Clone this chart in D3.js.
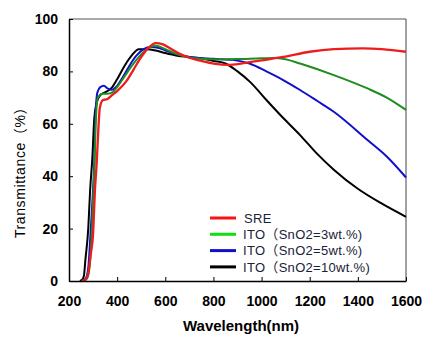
<!DOCTYPE html>
<html>
<head>
<meta charset="utf-8">
<script src="https://cdn.jsdelivr.net/npm/d3@7"></script>
<style>
  body { margin: 0; background: #fff; }
  .axis text { font-family: Arial, "Liberation Sans", sans-serif; font-weight: bold; font-size: 14px; fill: #000; }
  .axis path, .axis line { stroke: #000; }
</style>
</head>
<body>
<svg id="chart" width="433" height="349"></svg>
<script>
// wavelength (nm) / transmittance (%)
var sre = [[250,0],[268,0.5],[280,3],[290,10],[300,18],[308,35],[315,45],[322,58],[328,66],[340,69],[360,69.5],[380,71],[400,72.5],[440,76.5],[470,81],[500,85.5],[530,89],[560,90.8],[590,90.3],[620,88.8],[660,86.7],[700,85.2],[750,84],[800,83],[870,82.5],[950,83.5],[1000,84.2],[1090,85.5],[1200,87.5],[1300,88.5],[1420,88.8],[1500,88.5],[1600,87.5]];
var ito3 = [[260,0],[275,1],[285,5],[295,19],[305,42],[312,62],[320,70],[340,71.5],[360,71.5],[380,72],[400,74],[430,78],[460,82],[500,86.5],[530,89],[560,89.8],[600,88.5],[650,86.5],[700,85.3],[750,84.8],[800,84.6],[900,84.7],[1000,85],[1060,85.1],[1110,84.4],[1160,83],[1300,78.6],[1440,73.5],[1520,70],[1600,65.3]];
var ito5 = [[255,0],[270,1],[280,5],[290,19],[300,35],[305,45],[310,63],[318,72],[330,74],[345,74.5],[360,73.5],[375,73],[400,74.5],[425,78],[450,82],[480,86],[510,88.5],[540,89.3],[570,89],[600,88],[650,86.5],[700,85.5],[800,84.8],[880,84.4],[950,83],[1020,80],[1090,76.7],[1160,72.9],[1230,68.8],[1300,64.6],[1440,53.8],[1520,47.5],[1600,39.5]];
var ito10 = [[245,0],[255,0.5],[262,2],[268,8],[280,20],[288,35],[297,47],[305,62],[315,68],[330,71],[350,72],[380,74],[400,77],[430,82],[460,86],[490,88.5],[520,88.5],[560,88],[600,87],[650,86],[700,85.5],[750,85],[800,84],[850,83],[900,80],[952,76],[1021,69],[1090,62.2],[1160,55.7],[1228,48.8],[1300,42.5],[1400,35.2],[1500,29.5],[1600,24.5]];

var seriesNames = ["SRE", "ITO（SnO2=3wt.%)", "ITO（SnO2=5wt.%)", "ITO（SnO2=10wt.%)"];
var seriesData = [sre, ito3, ito5, ito10];
var lineColors = ["#ee1c1c", "#1e8c1e", "#1010cc", "#000000"];
var legendColors = ["#ff1010", "#10e010", "#1010cc", "#000000"];
var xTicks = [200, 400, 600, 800, 1000, 1200, 1400, 1600];
var yTicks = [0, 20, 40, 60, 80, 100];

var margin = {top: 19, right: 27, bottom: 68, left: 69};
var width = 433 - margin.left - margin.right;
var height = 349 - margin.top - margin.bottom;

var svg = d3.select("#chart");
var g = svg.append("g").attr("transform", "translate(" + margin.left + "," + margin.top + ")");

var x = d3.scaleLinear().domain([200, 1600]).range([0, width]);
var y = d3.scaleLinear().domain([0, 100]).range([height, 0]);

// frame top / right
g.append("line").attr("x1", 0).attr("x2", width).attr("y1", 0).attr("y2", 0)
  .attr("stroke", "#555").attr("stroke-width", 1);
g.append("line").attr("x1", width).attr("x2", width).attr("y1", 0).attr("y2", height)
  .attr("stroke", "#444").attr("stroke-width", 1);

var line = d3.line()
  .x(d => x(d[0]))
  .y(d => y(d[1]))
  .curve(d3.curveMonotoneX);

// draw black first, red on top
for (var i = seriesData.length - 1; i >= 0; i--) {
  g.append("path")
    .datum(seriesData[i])
    .attr("d", line)
    .attr("fill", "none")
    .attr("stroke", lineColors[i])
    .attr("stroke-width", i == 0 ? 2.3 : 2)
    .attr("stroke-linejoin", "round");
}

var xAxis = g.append("g").attr("class", "axis")
  .attr("transform", "translate(0," + height + ")")
  .call(d3.axisBottom(x).tickValues(xTicks).tickFormat(d3.format("d"))
    .tickSizeInner(-4).tickSizeOuter(0).tickPadding(15));
xAxis.select(".domain").attr("stroke-width", 1.5);

var yAxis = g.append("g").attr("class", "axis")
  .call(d3.axisLeft(y).tickValues(yTicks).tickSizeInner(-4).tickSizeOuter(0).tickPadding(11));
yAxis.select(".domain").attr("stroke-width", 1.5);

// axis titles
svg.append("text")
  .attr("x", 241).attr("y", 331)
  .attr("text-anchor", "middle")
  .style("font-family", "Arial, 'Liberation Sans', sans-serif")
  .style("font-weight", "bold").style("font-size", "15px")
  .text("Wavelength(nm)");

svg.append("text")
  .attr("transform", "translate(25,169) rotate(-90)")
  .attr("text-anchor", "middle")
  .style("font-family", "Arial, 'Liberation Sans', 'Noto Sans CJK JP', sans-serif")
  .style("font-size", "14px").style("letter-spacing", "0.6px")
  .text("Transmittance（%）");

// legend
var legend = svg.append("g").attr("transform", "translate(210,218)");
seriesNames.forEach(function(name, i) {
  var row = legend.append("g").attr("transform", "translate(0," + (i * 16.3) + ")");
  row.append("line").attr("x1", 0).attr("x2", 26).attr("y1", 0).attr("y2", 0)
    .attr("stroke", legendColors[i]).attr("stroke-width", 3);
  row.append("text")
    .attr("x", i == 0 ? 34 : 33).attr("y", 0).attr("dy", "0.36em")
    .style("font-family", "Arial, 'Liberation Sans', 'Noto Sans CJK JP', sans-serif")
    .style("font-size", "13px").style("letter-spacing", "0.3px").attr("fill", "#1a2238")
    .text(name);
});
</script>
</body>
</html>
